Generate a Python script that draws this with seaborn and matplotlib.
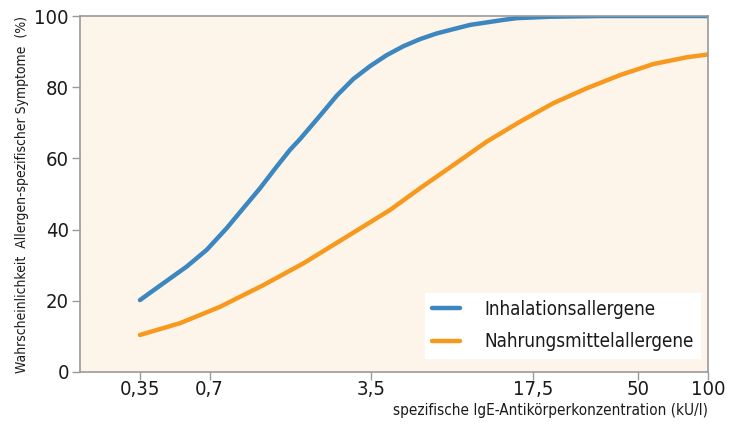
import numpy as np
import pandas as pd
import matplotlib
matplotlib.use('Agg')
import matplotlib.pyplot as plt
import seaborn as sns
from matplotlib.ticker import FixedLocator, NullLocator

sns.set_theme(style="white")
plt.rcParams['font.family'] = ['DejaVu Sans']
plt.rcParams['font.stretch'] = 'condensed'

# values
inh_conc = [0.35, 0.441, 0.557, 0.680, 0.830, 0.979, 1.156, 1.365, 1.558, 1.721, 2.101,
            2.480, 2.926, 3.455, 4.080, 4.814, 5.683, 6.713, 7.915, 9.350, 11.04, 13.02,
            14.88, 20.73, 34.12, 100]
inh_prob = [20.2, 24.9, 29.6, 34.3, 40.4, 46.0, 51.6, 57.7, 62.4, 65.4, 72.0,
            77.6, 82.3, 85.9, 89.0, 91.5, 93.5, 95.1, 96.3, 97.5, 98.2, 98.9,
            99.4, 99.8, 100, 100]

food_conc = [0.35, 0.521, 0.776, 1.195, 1.779, 2.741, 4.217, 5.683, 7.915, 11.04, 15.38,
             21.42, 29.89, 41.63, 57.98, 80.86, 100]
food_prob = [10.4, 13.7, 18.3, 24.4, 30.5, 38.0, 45.5, 51.6, 58.1, 64.7, 70.3,
             75.5, 79.7, 83.4, 86.5, 88.4, 89.2]

x_ticks = [0.35, 0.7, 3.5, 17.5, 50, 100]
x_tick_labels = ['0,35', '0,7', '3,5', '17,5', '50', '100']
y_ticks = [0, 20, 40, 60, 80, 100]

series_names = ['Inhalationsallergene', 'Nahrungsmittelallergene']
colors = ['#3d87c1', '#f7991f']

df = pd.concat([
    pd.DataFrame({'conc': inh_conc, 'prob': inh_prob, 'group': series_names[0]}),
    pd.DataFrame({'conc': food_conc, 'prob': food_prob, 'group': series_names[1]}),
], ignore_index=True)

fig = plt.figure(figsize=(7.29, 4.26), dpi=100)
ax = fig.add_axes([0.1097, 0.1268, 0.8615, 0.8356])
ax.set_xscale('log')
ax.set_facecolor('#fdf5e9')

sns.lineplot(data=df, x='conc', y='prob', hue='group', palette=colors,
             linewidth=3.2, ax=ax, sort=False, estimator=None)

ax.set_xlim(0.1926, 100)
ax.set_ylim(0, 100)
ax.xaxis.set_major_locator(FixedLocator(x_ticks))
ax.xaxis.set_minor_locator(NullLocator())
ax.set_xticklabels(x_tick_labels)
ax.set_yticks(y_ticks)

for s in ax.spines.values():
    s.set_color('#9a9a9a')
    s.set_linewidth(1.2)
ax.tick_params(axis='both', which='major', direction='out', length=6, width=1,
               color='#9a9a9a', labelsize=14.5, labelcolor='#1a1a1a',
               bottom=True, left=True)
ax.tick_params(axis='x', pad=0)
ax.tick_params(axis='y', pad=2)

ax.set_xlabel('spezifische IgE-Antikörperkonzentration (kU/l)', fontsize=11,
              color='#1a1a1a', ha='right')
ax.xaxis.set_label_coords(1.0, -0.088)
ax.set_ylabel('Wahrscheinlichkeit  Allergen-spezifischer Symptome  (%)', fontsize=10,
              color='#1a1a1a', va='center')
ax.yaxis.set_label_coords(-0.093, 0.5)

leg = ax.legend(loc='lower right', bbox_to_anchor=(0.988, 0.04), borderaxespad=0,
                frameon=True, fancybox=False, fontsize=13.5, handlelength=1.5,
                handletextpad=1.3, labelspacing=0.7, borderpad=0.35)
leg.get_frame().set_facecolor('white')
leg.get_frame().set_edgecolor('white')
leg.get_frame().set_alpha(1)
for t in leg.get_texts():
    t.set_color('#1a1a1a')

fig.savefig('out.png', dpi=100)
